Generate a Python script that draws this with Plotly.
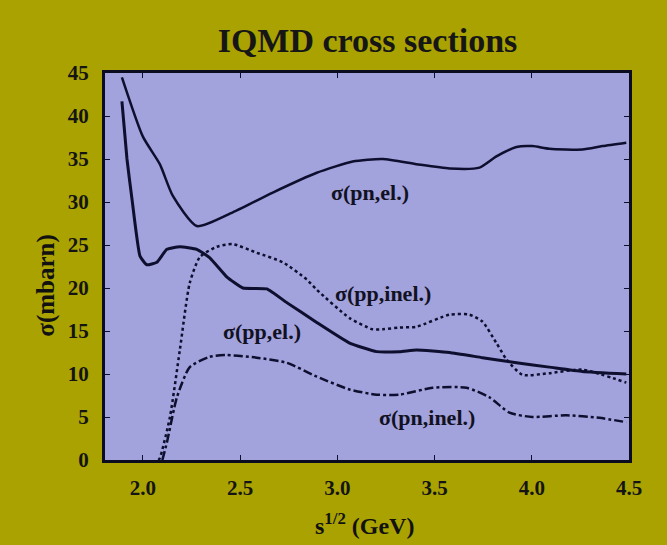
import plotly.graph_objects as go

# sigma(pn, el.)
pn_el_x = [1.892, 2.0, 2.087, 2.154, 2.277, 2.462, 2.668, 2.894, 3.079, 3.233, 3.407, 3.577, 3.731, 3.818, 3.921, 4.003, 4.09, 4.26, 4.363, 4.486]
pn_el_y = [44.5, 37.6, 34.4, 30.7, 27.2, 28.8, 31.1, 33.4, 34.7, 35.0, 34.4, 33.9, 34.0, 35.3, 36.4, 36.5, 36.2, 36.1, 36.5, 36.9]

# sigma(pp, el.)
pp_el_x = [1.892, 1.918, 1.944, 1.985, 2.02, 2.072, 2.123, 2.19, 2.277, 2.344, 2.431, 2.514, 2.637, 2.74, 2.894, 3.063, 3.202, 3.32, 3.407, 3.577, 3.746, 3.921, 4.09, 4.26, 4.486]
pp_el_y = [41.7, 35.0, 30.3, 23.7, 22.7, 23.0, 24.5, 24.8, 24.5, 23.5, 21.3, 20.0, 19.9, 18.3, 16.0, 13.6, 12.6, 12.6, 12.8, 12.5, 11.9, 11.3, 10.8, 10.3, 10.0]

# sigma(pp, inel.)
pp_inel_x = [2.08, 2.087, 2.139, 2.19, 2.241, 2.293, 2.38, 2.462, 2.585, 2.719, 2.842, 2.894, 3.063, 3.181, 3.233, 3.32, 3.407, 3.577, 3.68, 3.746, 3.818, 3.87, 3.952, 4.09, 4.26, 4.486]
pp_inel_y = [0.0, 0.2, 5.0, 12.8, 20.6, 23.6, 24.8, 25.1, 24.1, 23.0, 21.0, 19.8, 16.5, 15.2, 15.2, 15.4, 15.5, 16.9, 16.9, 16.1, 13.6, 11.7, 9.9, 10.1, 10.5, 9.0]

# sigma(pn, inel.)
pn_inel_x = [2.10, 2.123, 2.175, 2.241, 2.344, 2.431, 2.585, 2.74, 2.894, 3.063, 3.202, 3.32, 3.49, 3.664, 3.782, 3.885, 4.003, 4.178, 4.347, 4.486]
pn_inel_y = [0.0, 2.0, 7.3, 10.8, 12.0, 12.2, 11.9, 11.3, 9.7, 8.2, 7.6, 7.6, 8.4, 8.4, 7.3, 5.5, 5.0, 5.2, 4.9, 4.4]

label_text = ["σ(pn,el.)", "σ(pp,inel.)", "σ(pp,el.)", "σ(pn,inel.)"]
label_x = [3.166, 3.235, 2.611, 3.459]
label_y = [31.1, 19.4, 14.9, 5.0]

x_ticks = [2.0, 2.5, 3.0, 3.5, 4.0, 4.5]
x_tick_text = ["2.0", "2.5", "3.0", "3.5", "4.0", "4.5"]
y_ticks = [0, 5, 10, 15, 20, 25, 30, 35, 40, 45]

INK = "#0e0e2e"
SERIF = "Liberation Serif"

fig = go.Figure()
fig.add_trace(go.Scatter(x=pn_el_x, y=pn_el_y, mode="lines", line=dict(color=INK, width=2.5, shape="spline", smoothing=0.6)))
fig.add_trace(go.Scatter(x=pp_el_x, y=pp_el_y, mode="lines", line=dict(color=INK, width=3, shape="spline", smoothing=0.4)))
fig.add_trace(go.Scatter(x=pp_inel_x, y=pp_inel_y, mode="lines", line=dict(color=INK, width=2.5, dash="dot", shape="spline", smoothing=0.6)))
fig.add_trace(go.Scatter(x=pn_inel_x, y=pn_inel_y, mode="lines", line=dict(color=INK, width=2.5, dash="dashdot", shape="spline", smoothing=0.6)))

for t, x, y in zip(label_text, label_x, label_y):
    fig.add_annotation(x=x, y=y, text="<b>" + t + "</b>", showarrow=False,
                       font=dict(family=SERIF, size=22, color="#111122"))

fig.add_annotation(xref="paper", yref="paper", x=0.495, y=-0.165, xanchor="center", yanchor="middle",
                   text="<b>s<sup>1/2</sup> (GeV)</b>", showarrow=False,
                   font=dict(family=SERIF, size=24, color="#111111"))
fig.add_annotation(xref="paper", yref="paper", x=-0.113, y=0.45, xanchor="center", yanchor="middle",
                   textangle=-90, text="<b>σ(mbarn)</b>", showarrow=False,
                   font=dict(family=SERIF, size=25, color="#111111"))

fig.update_layout(
    width=667, height=545,
    margin=dict(l=105, r=38, t=73, b=85),
    paper_bgcolor="#a9a200",
    plot_bgcolor="#a2a2dc",
    showlegend=False,
    title=dict(text="<b>IQMD cross sections</b>", x=0.551, xanchor="center",
               y=1 - 40 / 545, yanchor="middle",
               font=dict(family=SERIF, size=34, color="#161616")),
)
fig.update_xaxes(range=[1.805, 4.5], tickvals=x_ticks, ticktext=["<b>" + t + "</b>" for t in x_tick_text],
                 ticks="inside", ticklen=5, tickcolor=INK, showgrid=False, zeroline=False,
                 showline=True, linecolor="#0c0c20", linewidth=3, mirror="ticks",
                 tickfont=dict(family=SERIF, size=21, color="#141414"), ticklabelstandoff=7)
fig.update_yaxes(range=[0, 45], tickvals=y_ticks, ticktext=["<b>%d</b>" % v for v in y_ticks],
                 ticks="inside", ticklen=5, tickcolor=INK, showgrid=False, zeroline=False,
                 showline=True, linecolor="#0c0c20", linewidth=3, mirror="ticks",
                 tickfont=dict(family=SERIF, size=21, color="#141414"), ticklabelstandoff=9)

fig.write_html("out.html")
